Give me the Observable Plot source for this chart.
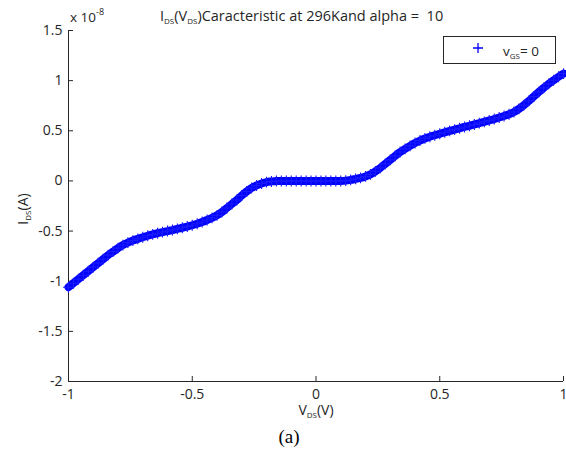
<!DOCTYPE html>
<html><head><meta charset="utf-8">
<script src="https://cdn.jsdelivr.net/npm/d3@7"></script>
<script src="https://cdn.jsdelivr.net/npm/@observablehq/plot@0.6"></script>
<style>
body{margin:0;background:#fff;}
#wrap{position:relative;width:566px;height:455px;font-family:"Open Sans",sans-serif;}
#cap{position:absolute;left:0;width:578px;top:426px;text-align:center;font-family:"Liberation Serif",serif;font-size:19px;line-height:22px;color:#000;}
</style></head><body><div id="wrap"><div id="cap">(a)</div></div>
<script>
// V_DS sample points (V)
const vds = [-1.00,-0.98,-0.96,-0.94,-0.92,-0.90,-0.88,-0.86,-0.84,-0.82,-0.80,-0.78,-0.76,-0.74,-0.72,-0.70,-0.68,-0.66,-0.64,-0.62,-0.60,-0.58,-0.56,-0.54,-0.52,-0.50,-0.48,-0.46,-0.44,-0.42,-0.40,-0.38,-0.36,-0.34,-0.32,-0.30,-0.28,-0.26,-0.24,-0.22,-0.20,-0.18,-0.16,-0.14,-0.12,-0.10,-0.08,-0.06,-0.04,-0.02,0.00,0.02,0.04,0.06,0.08,0.10,0.12,0.14,0.16,0.18,0.20,0.22,0.24,0.26,0.28,0.30,0.32,0.34,0.36,0.38,0.40,0.42,0.44,0.46,0.48,0.50,0.52,0.54,0.56,0.58,0.60,0.62,0.64,0.66,0.68,0.70,0.72,0.74,0.76,0.78,0.80,0.82,0.84,0.86,0.88,0.90,0.92,0.94,0.96,0.98,1.00];
// I_DS values in units of 1e-8 A (vGS = 0)
const ids = [-1.06,-1.02,-0.98,-0.94,-0.90,-0.86,-0.82,-0.78,-0.74,-0.705,-0.67,-0.64,-0.615,-0.595,-0.578,-0.562,-0.547,-0.533,-0.521,-0.51,-0.50,-0.49,-0.478,-0.467,-0.455,-0.442,-0.427,-0.41,-0.39,-0.368,-0.343,-0.31,-0.27,-0.23,-0.19,-0.145,-0.105,-0.07,-0.045,-0.025,-0.012,-0.005,0,0,0,0,0,0,0,0,0,0,0,0,0,0,0.003,0.01,0.02,0.03,0.045,0.065,0.095,0.13,0.17,0.21,0.25,0.288,0.32,0.35,0.378,0.403,0.424,0.441,0.456,0.47,0.485,0.499,0.512,0.525,0.538,0.55,0.563,0.576,0.589,0.603,0.617,0.632,0.648,0.665,0.688,0.718,0.756,0.798,0.842,0.886,0.928,0.968,1.004,1.039,1.07];
const xTicks = [-1,-0.5,0,0.5,1];
const yTicks = [-2,-1.5,-1,-0.5,0,0.5,1,1.5];

const points = vds.map((v,k)=>({v, i: ids[k]}));
const W=566,H=420,ML=68,MR=3,MT=30,MB=39;
const ink="#262626", blue="#0000ff";

const plot = Plot.plot({
  width:W,height:H,marginLeft:ML,marginRight:MR,marginTop:MT,marginBottom:MB,
  x:{domain:[-1,1]}, y:{domain:[-2,1.5]},
  style:{fontFamily:"Open Sans, sans-serif", fontSize:"14px", color:ink, background:"white", overflow:"visible"},
  marks:[
    Plot.ruleX([-1],{stroke:ink}),
    Plot.ruleY([-2],{stroke:ink}),
    Plot.tickX(xTicks,{x:d=>d, insetTop:(H-MT-MB)-5, stroke:ink}),
    Plot.tickY(yTicks,{y:d=>d, insetRight:(W-ML-MR)-5, stroke:ink}),
    Plot.axisX(xTicks,{tickSize:0,tickPadding:8,tickFormat:d=>String(d),label:null}),
    Plot.axisY(yTicks,{tickSize:0,tickPadding:6,tickFormat:d=>String(d),label:null}),
    Plot.line(points,{x:"v",y:"i",stroke:blue,strokeWidth:8,curve:"catmull-rom"}),
    Plot.dot(points,{x:"v",y:"i",symbol:"plus",r:3.6,stroke:"#1a1aff",strokeWidth:1.1})
  ]
});
document.getElementById("wrap").prepend(plot);

const svg = d3.select(plot);
const fam = "Open Sans, sans-serif";
function rich(sel, parts){
  let shift = 0;
  parts.forEach(([t,kind])=>{
    const ts = sel.append("tspan").text(t);
    let target = kind==="sub" ? 3 : kind==="sup" ? -7 : 0;
    if(target!==shift){ ts.attr("dy", target-shift); shift = target; }
    if(kind==="sub") ts.attr("font-size","8px");
    if(kind==="sup") ts.attr("font-size","9px");
  });
  return sel;
}
function txt(x,y,anchor,size){
  return svg.append("text").attr("x",x).attr("y",y).attr("text-anchor",anchor)
    .attr("font-family",fam).attr("font-size",(size||14)+"px").attr("fill",ink);
}
// title
rich(txt(160,21,"start",14.5).attr("xml:space","preserve"),
  [["I"],["DS","sub"],["(V"],["DS","sub"],[")Caracteristic at 296Kand alpha =  10"]]);
// exponent
rich(txt(70,22,"start",13.5), [["x 10"],["-8","sup"]]);
// y label
rich(svg.append("text").attr("transform","translate(28,209) rotate(-90)").attr("text-anchor","middle")
  .attr("font-family",fam).attr("font-size","14px").attr("fill",ink),
  [["I"],["DS","sub"],["(A)"]]);
// x label
rich(txt(316,415,"middle"), [["V"],["DS","sub"],["(V)"]]);
// legend
const lg = svg.append("g");
lg.append("rect").attr("x",443.5).attr("y",36.5).attr("width",112).attr("height",27).attr("fill","white").attr("stroke",ink);
lg.append("path").attr("d","M473,48h10M478,43v10").attr("stroke",blue).attr("stroke-width",1.3);
rich(lg.append("text").attr("x",503).attr("y",56).attr("text-anchor","start")
  .attr("font-family",fam).attr("font-size","13.5px").attr("fill",ink),
  [["v"],["GS","sub"],["= 0"]]);
</script></body></html>
